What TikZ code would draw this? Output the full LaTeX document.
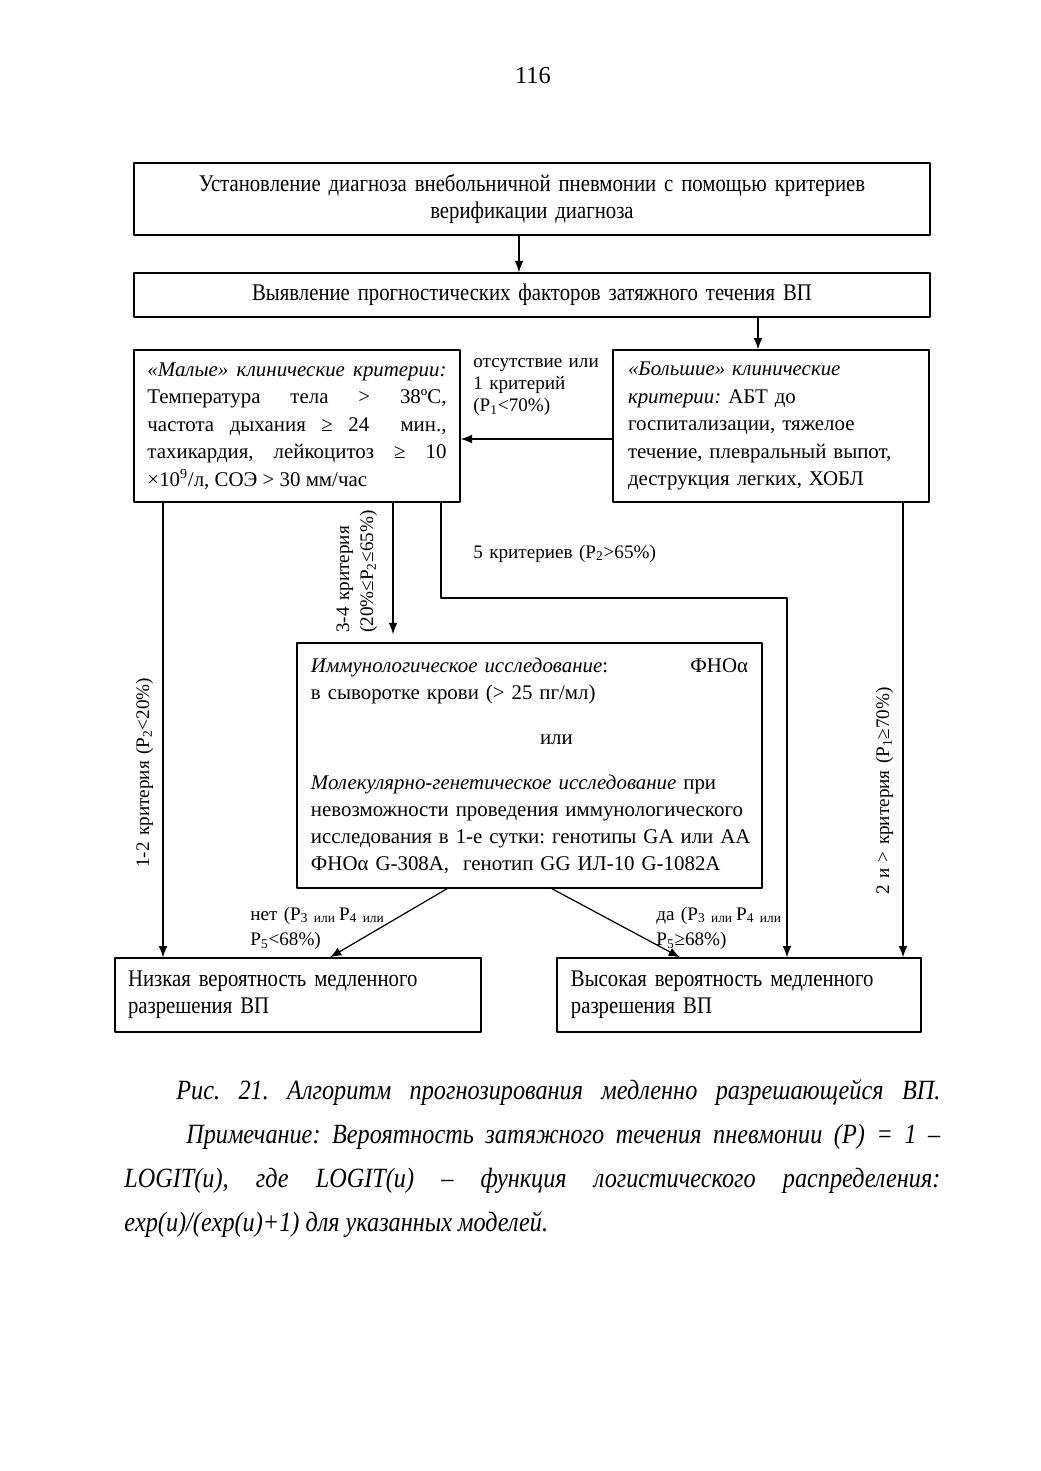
\documentclass[tikz,border=0pt]{standalone}
\usepackage{fontspec}
\setmainfont{Liberation Serif}
\newfontfamily\condfont[FakeStretch=0.87]{Liberation Serif}
\usetikzlibrary{arrows.meta}
\tikzset{
  box/.style={draw,line width=0.8pt,inner ysep=0pt},
  boxtext/.style={font=\fontsize{12}{15.8}\selectfont},
  condtext/.style={font=\condfont\fontsize{13.7}{15.5}\selectfont},
  lbl/.style={inner sep=0pt,anchor=base west,align=left,font=\fontsize{11}{12.6}\selectfont},
}
\begin{document}
\frenchspacing
\begin{tikzpicture}[>={Latex[length=6.5pt,width=5pt]},line join=bevel,x=0.5745pt,y=-0.5745pt]
\useasboundingbox (0,0) rectangle (1040,1471);
%%
\node (node_page) at (533,84) [anchor=base,inner sep=0pt,font=\fontsize{14}{16}\selectfont] {116};
%%
\node (node_diag) at (532,199) [box,condtext,minimum width=457.3pt,minimum height=41.4pt,text width=441.3pt,inner xsep=8pt,align=center]
  {Установление диагноза внебольничной пневмонии с помощью критериев\\ верификации диагноза};
\node (node_factors) at (532,295) [box,condtext,minimum width=457.3pt,minimum height=25.3pt,text width=441.3pt,inner xsep=8pt,align=center]
  {Выявление прогностических факторов затяжного течения ВП};
\node (node_minor) at (297,426) [box,boxtext,minimum width=187.3pt,minimum height=87.3pt,text width=171.8pt,inner xsep=7.75pt,align=justify]
  {\textit{«Малые» клинические критерии:}\linebreak Температура тела > 38ºС,\linebreak частота дыхания ≥ 24 \ мин.,\linebreak тахикардия, лейкоцитоз ≥ 10\linebreak ×10\textsuperscript{9}/л, СОЭ > 30 мм/час};
\node (node_major) at (771,426) [box,boxtext,minimum width=181.5pt,minimum height=87.3pt,text width=164.3pt,inner xsep=8.6pt,align=left]
  {\textit{«Большие» клинические}\\ \textit{критерии:} АБТ до\\ госпитализации, тяжелое\\ течение, плевральный выпот,\\ деструкция легких, ХОБЛ};
\node (node_immuno) at (529.5,765.5) [box,font=\fontsize{12}{15.5}\selectfont,minimum width=267.1pt,minimum height=140.8pt,text width=251.1pt,inner xsep=8pt,align=left]
  {\textit{Иммунологическое исследование}:\hfill ФНОα\\ в сыворотке крови (> 25 пг/мл)\\[10.3pt]
   \hspace*{131.6pt}или\\[10.3pt]
   \mbox{\textit{Молекулярно-генетическое исследование} при}\\ \mbox{невозможности проведения иммунологического}\\ \mbox{исследования в 1-е сутки: генотипы GA или AA}\\ \mbox{ФНОα G-308A, \ генотип GG ИЛ-10 G-1082A}};
\node (node_low) at (298,995) [box,condtext,minimum width=210.3pt,minimum height=42.5pt,text width=195.3pt,inner xsep=7.5pt,align=left]
  {Низкая вероятность медленного\\ разрешения ВП};
\node (node_high) at (739,995) [box,condtext,minimum width=209.1pt,minimum height=42.5pt,text width=193.1pt,inner xsep=8pt,align=left]
  {Высокая вероятность медленного\\ разрешения ВП};
%%
\node (node_lbl_none) at (473,368) [lbl,text width=80pt] {отсутствие или\\ 1 критерий\\ (P\textsubscript{1}<70\%)};
\node (node_lbl_five) at (473,558) [lbl,text width=120pt] {5 критериев (P\textsubscript{2}>65\%)};
\node (node_lbl_34) at (349,633) [lbl,rotate=90,text width=80pt,font=\fontsize{11}{13.8}\selectfont] {3-4 критерия\\ (20\%≤P\textsubscript{2}≤65\%)};
\node (node_lbl_12) at (149,868) [lbl,rotate=90,text width=120pt] {1-2 критерия (P\textsubscript{2}<20\%)};
\node (node_lbl_2plus) at (889,895) [lbl,rotate=90,text width=130pt] {2 и > критерия (P\textsubscript{1}≥70\%)};
\node (node_lbl_no) at (250,920) [lbl,text width=100pt,font=\fontsize{11}{14.9}\selectfont] {нет (P\textsubscript{3~или}\,P\textsubscript{4~или}\\ P\textsubscript{5}<68\%)};
\node (node_lbl_yes) at (656,920) [lbl,text width=100pt,font=\fontsize{11}{14.9}\selectfont] {да (P\textsubscript{3~или}\,P\textsubscript{4~или}\\ P\textsubscript{5}≥68\%)};
%%
\coordinate (c_ab) at (519,0);
\coordinate (c_bmaj) at (758,0);
\coordinate (c_majmin) at (0,439);
\coordinate (c_minlow) at (163,0);
\coordinate (c_minimm) at (393,0);
\coordinate (c_minhigh) at (441,0);
\coordinate (c_turn) at (787,598);
\coordinate (c_majhigh) at (903,0);
\coordinate (c_no_a) at (447,0);
\coordinate (c_no_b) at (330,0);
\coordinate (c_yes_a) at (552,0);
\coordinate (c_yes_b) at (680,0);
%
\draw [black,line width=0.7pt,->] (node_diag.south -| c_ab) -- (node_factors.north -| c_ab);
\draw [black,line width=0.7pt,->] (node_factors.south -| c_bmaj) -- (node_major.north -| c_bmaj);
\draw [black,line width=0.7pt,->] (node_major.west |- c_majmin) -- (node_minor.east |- c_majmin);
\draw [black,line width=0.7pt,->] (node_minor.south -| c_minlow) -- (node_low.north -| c_minlow);
\draw [black,line width=0.7pt,->] (node_minor.south -| c_minimm) -- ([yshift=4.6pt]node_immuno.north -| c_minimm);
\draw [black,line width=0.7pt,->] (node_minor.south -| c_minhigh) |- (c_turn) -- (node_high.north -| c_turn);
\draw [black,line width=0.7pt,->] (node_major.south -| c_majhigh) -- (node_high.north -| c_majhigh);
\draw [black,line width=0.7pt,->] (node_immuno.south -| c_no_a) -- (node_low.north -| c_no_b);
\draw [black,line width=0.7pt,->] (node_immuno.south -| c_yes_a) -- (node_high.north -| c_yes_b);
%%
\node (node_caption) at (124,1099) [anchor=base west,inner sep=0pt,text width=468.8pt,align=justify,font=\condfont\itshape\fontsize{16}{25.3}\selectfont]
  {{\parfillskip=0pt \hspace*{29.9pt}Рис. 21. Алгоритм прогнозирования медленно разрешающейся ВП.\par}
   \hspace*{35.6pt}Примечание: Вероятность затяжного течения пневмонии (P) = 1 –\linebreak
   LOGIT(u), где LOGIT(u) – функция логистического распределения:\linebreak
   exp(u)/(exp(u)+1) для указанных моделей.};
%
\end{tikzpicture}
\end{document}
